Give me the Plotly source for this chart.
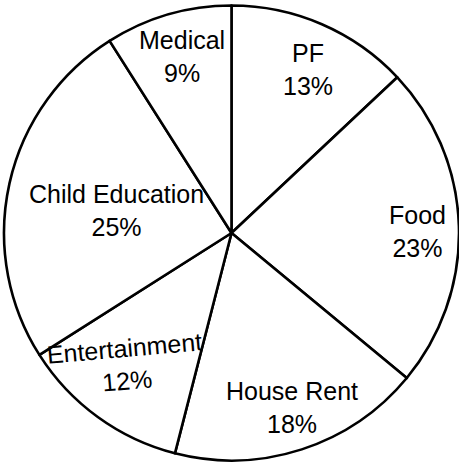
import plotly.graph_objects as go

categories = ["PF", "Food", "House Rent", "Entertainment", "Child Education", "Medical"]
values = [13, 23, 18, 12, 25, 9]

# label block centres in pixels (x from left, y from top) and rotation
label_x = [308, 417, 292, 126, 116, 182]
label_y = [69, 231, 407, 364, 210, 56]
label_angle = [0, 0, 0, -5, 0, 0]

W, H = 459, 462

fig = go.Figure(go.Pie(
    labels=categories,
    values=values,
    sort=False,
    direction="clockwise",
    rotation=0,
    textinfo="none",
    hoverinfo="label+percent",
    marker=dict(colors=["white"] * len(categories), line=dict(color="black", width=2.6)),
    domain=dict(x=[4 / W, 1.0], y=[1 / H, 457 / H]),
    showlegend=False,
))

for c, v, x, y, a in zip(categories, values, label_x, label_y, label_angle):
    fig.add_annotation(
        text=f"{c}<br>{v}%",
        x=x / W, y=1 - y / H, xref="paper", yref="paper",
        xanchor="center", yanchor="middle", showarrow=False,
        textangle=a,
        font=dict(family="Liberation Sans, Arial, sans-serif", size=25, color="black"),
    )

fig.update_layout(
    width=W, height=H,
    margin=dict(l=0, r=0, t=0, b=0),
    paper_bgcolor="white", plot_bgcolor="white",
)

fig.write_html("out.html", config={"displayModeBar": False},
               post_script="document.body.style.margin='0';")
